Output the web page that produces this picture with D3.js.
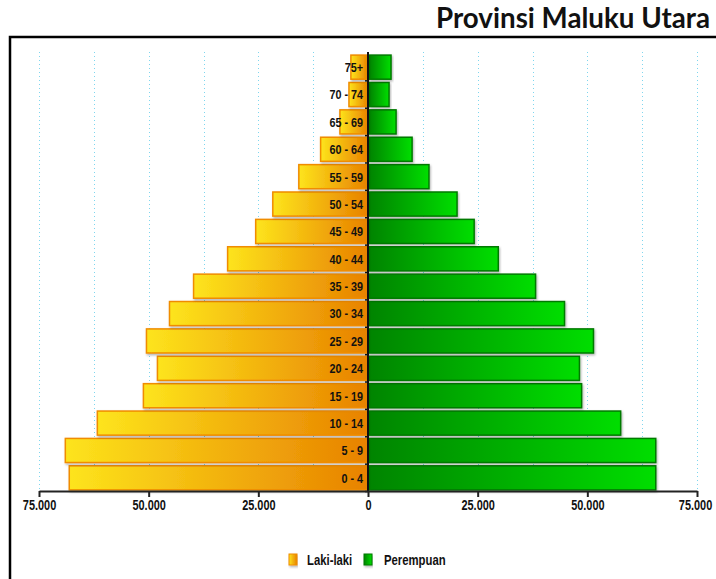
<!DOCTYPE html>
<html>
<head>
<meta charset="utf-8">
<script src="https://cdn.jsdelivr.net/npm/d3@7"></script>
<style>
	body { margin: 0; background: #fff; }
	.ageLabel, .tickLabel, .legendText { font-family: "Liberation Sans", Arial, sans-serif; font-weight: bold; fill: #111; }
	.title { font-family: Lato, "Open Sans", sans-serif; font-weight: bold; fill: #111; }
	.gridLines { stroke: #7fd6ee; stroke-width: 1; stroke-dasharray: 1,3; }
</style>
</head>
<body>
<script>

//Age groups, bottom to top
let ageGroups = ["0 - 4", "5 - 9", "10 - 14", "15 - 19", "20 - 24", "25 - 29", "30 - 34", "35 - 39",
	"40 - 44", "45 - 49", "50 - 54", "55 - 59", "60 - 64", "65 - 69", "70 - 74", "75+"];

//Population by sex, same order as ageGroups
let lakiLaki = [68100, 69000, 61700, 51200, 48000, 50500, 45250, 39760,
	32000, 25600, 21700, 15770, 10800, 6400, 4340, 3900];
let perempuan = [65600, 65600, 57600, 48700, 48200, 51400, 44800, 38200,
	29700, 24200, 20300, 13900, 10050, 6400, 4800, 5250];

//Axis ticks
let tickValues = [-75000, -50000, -25000, 0, 25000, 50000, 75000];
let gridValues = [-75000, -62500, -50000, -37500, -25000, -12500, 12500, 25000, 37500, 50000, 62500, 75000];

let seriesNames = ["Laki-laki", "Perempuan"];
let titleText = "Provinsi Maluku Utara";

window.onload = drawChart();

//Squeeze text to a given width, the original uses a narrow font
function condense(sel, factor){
	sel.each(function(){
		let w = this.getComputedTextLength();
		d3.select(this)
			.attr("textLength", w * factor)
			.attr("lengthAdjust", "spacingAndGlyphs");
	});
}

function drawChart(){

	let width = 716;
	let height = 579;

	let svg = d3.select("body")
		.append("svg")
		.attr("width", width)
		.attr("height", height);

	let defs = svg.append("defs");

	//Gradients for the two sexes
	let gradMale = defs.append("linearGradient").attr("id", "gradMale");
	gradMale.append("stop").attr("offset", "0%").attr("stop-color", "#fde41c");
	gradMale.append("stop").attr("offset", "100%").attr("stop-color", "#e88200");

	let gradFemale = defs.append("linearGradient").attr("id", "gradFemale");
	gradFemale.append("stop").attr("offset", "0%").attr("stop-color", "#008400");
	gradFemale.append("stop").attr("offset", "100%").attr("stop-color", "#00de00");

	//Soft shadow under the bars
	let shadow = defs.append("filter").attr("id", "shadow")
		.attr("x", "-5%").attr("y", "-20%").attr("width", "115%").attr("height", "150%");
	shadow.append("feDropShadow")
		.attr("dx", 1).attr("dy", 1.5).attr("stdDeviation", 0.8)
		.attr("flood-color", "#000").attr("flood-opacity", 0.3);

	//Title
	let title = svg.append("text")
		.attr("class", "title")
		.attr("x", 710)
		.attr("y", 28)
		.attr("text-anchor", "end")
		.style("font-size", "20px")
		.text(titleText);
	//size the title so it is as wide as in the original
	let tw = title.node().getComputedTextLength();
	title.style("font-size", (20 * 274 / tw).toFixed(2) + "px");

	//Black frame
	svg.append("rect")
		.attr("x", 10)
		.attr("y", 37)
		.attr("width", 720)
		.attr("height", 560)
		.attr("fill", "none")
		.attr("stroke", "#000")
		.attr("stroke-width", 2.5);

	//Scales
	let x = d3.scaleLinear()
		.domain([-75000, 75000])
		.range([39, 697]);

	let y = d3.scaleBand()
		.domain(ageGroups)
		.range([491, 54])
		.paddingInner(0.12)
		.paddingOuter(0.04);

	//Dotted grid lines
	svg.selectAll(".gridLines")
		.data(gridValues)
		.enter()
		.append("line")
		.attr("class", "gridLines")
		.attr("x1", function(d){ return Math.round(x(d)) + 0.5; })
		.attr("x2", function(d){ return Math.round(x(d)) + 0.5; })
		.attr("y1", 52)
		.attr("y2", 490);

	let rows = ageGroups.map(function(g, i){
		return { group: g, male: lakiLaki[i], female: perempuan[i] };
	});

	//Male bars (left)
	svg.selectAll(".male")
		.data(rows)
		.enter()
		.append("rect")
		.attr("class", "male")
		.attr("x", function(d){ return x(-d.male); })
		.attr("y", function(d){ return y(d.group); })
		.attr("width", function(d){ return x(0) - x(-d.male); })
		.attr("height", y.bandwidth())
		.attr("fill", "url(#gradMale)")
		.attr("stroke", "#f08c00")
		.attr("stroke-width", 1.5)
		.attr("filter", "url(#shadow)");

	//Female bars (right)
	svg.selectAll(".female")
		.data(rows)
		.enter()
		.append("rect")
		.attr("class", "female")
		.attr("x", x(0) + 1.5)
		.attr("y", function(d){ return y(d.group); })
		.attr("width", function(d){ return x(d.female) - x(0) - 1.5; })
		.attr("height", y.bandwidth())
		.attr("fill", "url(#gradFemale)")
		.attr("stroke", "#007a00")
		.attr("stroke-width", 1.5)
		.attr("filter", "url(#shadow)");

	//Age labels
	let ageLabels = svg.selectAll(".ageLabel")
		.data(rows)
		.enter()
		.append("text")
		.attr("class", "ageLabel")
		.attr("x", x(0) - 5)
		.attr("y", function(d){ return y(d.group) + y.bandwidth() / 2; })
		.attr("dy", "0.36em")
		.attr("text-anchor", "end")
		.style("font-size", "13.5px")
		.text(function(d){ return d.group; });
	condense(ageLabels, 0.8);

	//Vertical center axis with small ticks
	let yAxis = d3.axisLeft(y)
		.tickSize(3)
		.tickFormat("");
	let yAxisG = svg.append("g")
		.attr("transform", "translate(" + x(0) + ",0)")
		.call(yAxis);
	yAxisG.select(".domain").attr("stroke", "#111").attr("stroke-width", 2).attr("d", "M0,52V491");
	yAxisG.selectAll(".tick line").attr("stroke", "#111").attr("stroke-width", 1.5)
		.attr("transform", "translate(0," + (y.step() / 2) + ")");

	//Bottom axis
	let xAxis = d3.axisBottom(x)
		.tickValues(tickValues)
		.tickSize(6)
		.tickSizeOuter(0)
		.tickFormat(function(d){ return d3.format(",")(Math.abs(d)).replace(/,/g, "."); });
	let xAxisG = svg.append("g")
		.attr("transform", "translate(0,491)")
		.call(xAxis);
	xAxisG.select(".domain").attr("stroke", "#222").attr("stroke-width", 2);
	xAxisG.selectAll(".tick line").attr("stroke", "#222").attr("stroke-width", 2);
	let tickLabels = xAxisG.selectAll(".tick text")
		.attr("class", "tickLabel")
		.attr("y", 9)
		.style("font-size", "14px");
	condense(tickLabels, 0.78);
	//keep the last label inside the window
	tickLabels.filter(function(d){ return d === 75000; }).attr("dx", -2);

	//Legend
	let legendX = [289, 364];
	let legendTextX = [307, 384];
	let legendFills = ["url(#gradMale)", "url(#gradFemale)"];
	let legendStrokes = ["#f08c00", "#007a00"];

	let legend = svg.selectAll(".legend")
		.data(seriesNames)
		.enter()
		.append("g")
		.attr("class", "legend");

	legend.append("rect")
		.attr("x", function(d, i){ return legendX[i]; })
		.attr("y", 554)
		.attr("width", 8)
		.attr("height", 11)
		.attr("fill", function(d, i){ return legendFills[i]; })
		.attr("stroke", function(d, i){ return legendStrokes[i]; })
		.attr("stroke-width", 1)
		.attr("filter", "url(#shadow)");

	let legendText = legend.append("text")
		.attr("class", "legendText")
		.attr("x", function(d, i){ return legendTextX[i]; })
		.attr("y", 560)
		.attr("dy", "0.36em")
		.style("font-size", "14.5px")
		.text(function(d){ return d; });
	condense(legendText, 0.78);
};

</script>
</body>
</html>
